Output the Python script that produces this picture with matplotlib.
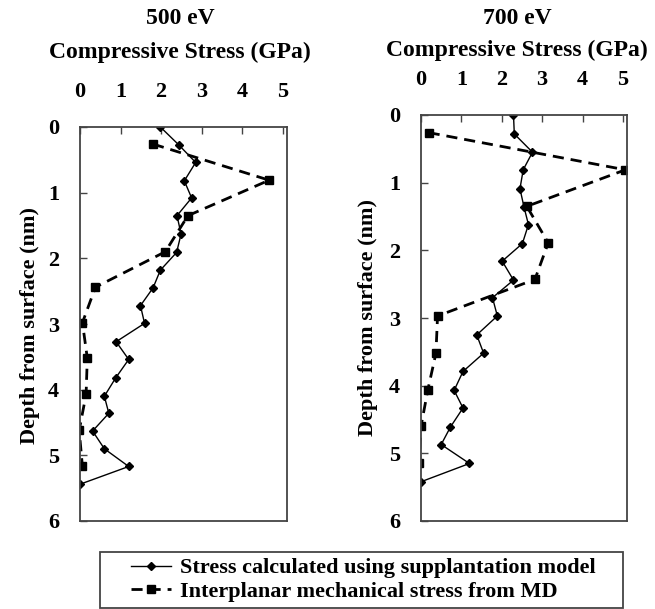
import numpy as np
import matplotlib
matplotlib.use('Agg')
from matplotlib import pyplot as plt
from matplotlib.lines import Line2D
from matplotlib import patches

# =============================================================================
# DATA
# =============================================================================
# 500 eV panel
depth_500 = [0.00, 0.27, 0.54, 0.82, 1.08, 1.35, 1.63, 1.91, 2.18, 2.45, 2.72,
             2.99, 3.27, 3.54, 3.82, 4.10, 4.36, 4.63, 4.90, 5.17, 5.44]
model_500 = [1.98, 2.43, 2.85, 2.57, 2.75, 2.39, 2.49, 2.38, 1.98, 1.80, 1.49,
             1.59, 0.89, 1.20, 0.88, 0.60, 0.71, 0.31, 0.60, 1.20, 0.00]
md_depth_500 = [0.26, 0.81, 1.35, 1.90, 2.44, 2.98, 3.52, 4.07, 4.62, 5.17]
md_500 = [1.80, 4.66, 2.66, 2.10, 0.38, 0.06, 0.18, 0.15, -0.02, 0.06]

# 700 eV panel
depth_700 = [0.00, 0.28, 0.55, 0.81, 1.09, 1.36, 1.62, 1.90, 2.16, 2.44, 2.70,
             2.97, 3.25, 3.52, 3.79, 4.07, 4.33, 4.61, 4.87, 5.15, 5.42]
model_700 = [2.29, 2.31, 2.76, 2.53, 2.45, 2.55, 2.66, 2.51, 2.01, 2.29, 1.77,
             1.89, 1.38, 1.55, 1.04, 0.82, 1.04, 0.73, 0.50, 1.20, 0.00]
md_depth_700 = [0.26, 0.81, 1.35, 1.89, 2.43, 2.97, 3.52, 4.06, 4.60, 5.15]
md_700 = [0.19, 5.06, 2.62, 3.15, 2.82, 0.41, 0.37, 0.17, 0.00, -0.05]

x_ticks = [0, 1, 2, 3, 4, 5]
y_ticks = [0, 1, 2, 3, 4, 5, 6]
label_model = 'Stress calculated using supplantation model'
label_md = 'Interplanar mechanical stress from MD'

# =============================================================================
# PLOT
# =============================================================================
plt.rcParams['font.family'] = ['Liberation Serif', 'DejaVu Serif']
plt.rcParams['font.weight'] = 'bold'
W, H = 655, 609
fig = plt.figure(figsize=(W/100, H/100), dpi=100)

def px_axes(x0, y0, x1, y1):
    return fig.add_axes([x0/W, 1 - y1/H, (x1-x0)/W, (y1-y0)/H])

ax1 = px_axes(80, 127, 287, 521)
ax2 = px_axes(421, 115, 627, 521)

panels = [(ax1, depth_500, model_500, md_depth_500, md_500),
          (ax2, depth_700, model_700, md_depth_700, md_700)]
for ax, d, m, dmd, md in panels:
    ax.plot(m, d, '-', color='k', lw=1.0, marker='D', ms=4.5)
    ax.plot(md, dmd, '--', color='k', lw=2.0, marker='s', ms=5.5, dashes=(4, 2.5))
    ax.set_xlim(0, 5.1)
    ax.set_ylim(6, 0)
    ax.set_xticks(x_ticks)
    ax.set_yticks(y_ticks)
    ax.xaxis.tick_top()
    ax.tick_params(direction='in', length=5, width=1, color='#444',
                   labelsize=16, top=True, bottom=False)
    ax.tick_params(axis='x', pad=18)
    ax.tick_params(axis='y', pad=15)
    for lbl in ax.get_xticklabels() + ax.get_yticklabels():
        lbl.set_fontweight('bold')
    for sp in ax.spines.values():
        sp.set_color('#444')
        sp.set_linewidth(1.3)

# titles and axis labels
fig.text(180/W, 1 - 19/H, '500 eV', ha='center', va='center', fontsize=17, fontweight='bold')
fig.text(180/W, 1 - 52/H, 'Compressive Stress (GPa)', ha='center', va='center', fontsize=17, fontweight='bold')
fig.text(517/W, 1 - 19/H, '700 eV', ha='center', va='center', fontsize=17, fontweight='bold')
fig.text(517/W, 1 - 50/H, 'Compressive Stress (GPa)', ha='center', va='center', fontsize=17, fontweight='bold')
fig.text(30/W, 1 - 325/H, 'Depth from surface (nm)', ha='center', va='center',
         rotation=90, fontsize=16, fontweight='bold')
fig.text(368/W, 1 - 318/H, 'Depth from surface (nm)', ha='center', va='center',
         rotation=90, fontsize=16, fontweight='bold')

# legend (frame drawn separately)
handles = [Line2D([], [], color='k', lw=1.0, marker='D', ms=4.5),
           Line2D([], [], color='k', lw=2.0, ls='--', marker='s', ms=5.5, dashes=(4, 2.5))]
leg = fig.legend(handles, [label_model, label_md], loc='center',
                 bbox_to_anchor=(363/W, 1 - 580/H), fontsize=16,
                 frameon=False, handlelength=1.8, handletextpad=0.4,
                 labelspacing=0.15, borderpad=0.3, borderaxespad=0)
for t in leg.get_texts():
    t.set_fontweight('bold')
fig.patches.append(patches.Rectangle((100/W, 1 - 608/H), 523/W, 56/H,
                                     transform=fig.transFigure, fill=False,
                                     edgecolor='#444', lw=1.3))

fig.savefig('out.png', dpi=100)
